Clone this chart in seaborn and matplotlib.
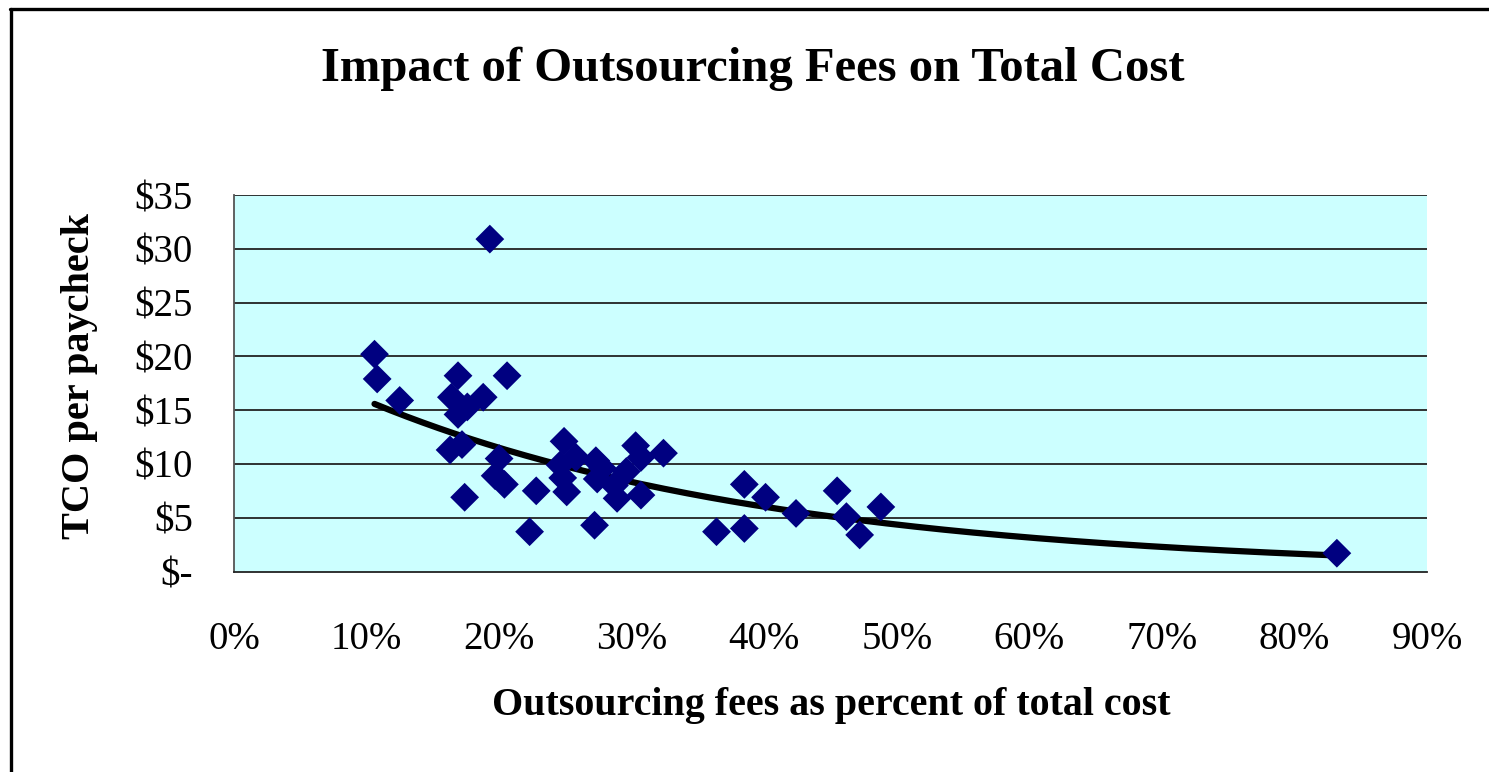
import numpy as np
import pandas as pd
import matplotlib
matplotlib.use("Agg")
import matplotlib.pyplot as plt
import seaborn as sns
from matplotlib.lines import Line2D
from matplotlib.ticker import FuncFormatter

# Data
fee_pct = [19.3, 10.6, 10.8, 12.5, 16.9, 20.6, 16.4, 18.8, 17.6, 16.9,
           16.3, 17.2, 17.4, 20.0, 19.7, 20.4, 22.8, 22.3, 24.9, 24.6,
           24.8, 25.1, 25.8, 27.3, 27.8, 27.4, 28.7, 28.9, 27.2, 29.6,
           30.3, 30.7, 30.7, 32.4, 36.4, 38.5, 38.5, 40.1, 42.4, 45.5,
           46.2, 47.2, 48.8, 83.2]
tco = [30.9, 20.2, 17.9, 15.9, 18.2, 18.2, 16.2, 16.2, 15.3, 14.6,
       11.3, 11.8, 6.9, 10.5, 8.9, 8.1, 7.5, 3.7, 12.1, 9.9,
       8.7, 7.4, 10.6, 10.3, 9.6, 8.6, 8.0, 6.8, 4.3, 9.3,
       11.7, 10.6, 7.1, 11.0, 3.7, 8.1, 4.0, 6.9, 5.4, 7.5,
       5.1, 3.4, 6.0, 1.7]
x_ticks = [0, 10, 20, 30, 40, 50, 60, 70, 80, 90]
y_ticks = [0, 5, 10, 15, 20, 25, 30, 35]

title = "Impact of Outsourcing Fees on Total Cost"
xlabel = "Outsourcing fees as percent of total cost"
ylabel = "TCO per paycheck"

df = pd.DataFrame({"fee": fee_pct, "tco": tco})

# Exponential trend line (least squares on log y, like Excel)
b, loga = np.polyfit(df["fee"], np.log(df["tco"]), 1)
xs = np.linspace(df["fee"].min(), df["fee"].max(), 300)
trend = pd.DataFrame({"fee": xs, "tco": np.exp(loga + b * xs)})

sns.set_theme(style="white")
plt.rcParams["font.family"] = ["Liberation Serif", "DejaVu Serif"]
plt.rcParams["text.color"] = "black"
plt.rcParams["xtick.color"] = "black"
plt.rcParams["ytick.color"] = "black"

W, H = 1489, 772
fig = plt.figure(figsize=(W / 100, H / 100), dpi=100)
ax = fig.add_axes([234 / W, 1 - 571.5 / H, (1427 - 234) / W, (571.5 - 195) / H])
ax.set_facecolor("#CCFFFF")

ax.set_xlim(0, 90)
ax.set_ylim(0, 35)
ax.set_xticks(x_ticks)
ax.set_yticks(y_ticks)
ax.xaxis.set_major_formatter(FuncFormatter(lambda v, p: f"{int(v)}%"))
ax.yaxis.set_major_formatter(FuncFormatter(lambda v, p: "$-" if v == 0 else f"${int(v)}"))
ax.tick_params(axis="both", which="major", labelsize=28, direction="out",
               length=8.6, width=1.2, color="#333333", labelcolor="black")
ax.tick_params(axis="x", pad=27)
ax.tick_params(axis="y", pad=21)

for yv in y_ticks[1:]:
    ax.axhline(yv, color="#222222", lw=1.3, zorder=1)

sns.lineplot(data=trend, x="fee", y="tco", ax=ax, color="black", lw=4.5,
             zorder=3, estimator=None, sort=False)
sns.scatterplot(data=df, x="fee", y="tco", ax=ax, marker="D", s=215,
                color="#000080", edgecolor="none", zorder=4)

for s in ["top", "right"]:
    ax.spines[s].set_visible(False)
ax.spines["left"].set_color("#555555")
ax.spines["left"].set_linewidth(1.3)
ax.spines["bottom"].set_color("#222222")
ax.spines["bottom"].set_linewidth(1.3)

ax.set_xlabel("")
ax.set_ylabel("")

fig.text(753 / W, 1 - 69 / H, title, ha="center", va="center",
         fontsize=35, fontweight="bold", color="black")
fig.text(831 / W, 1 - 706 / H, xlabel, ha="center", va="center",
         fontsize=28.8, fontweight="bold", color="black")
fig.text(80 / W, 1 - 376 / H, ylabel, ha="center", va="center",
         fontsize=29, fontweight="bold", rotation=90, color="black")

# Outer chart border (left and top visible)
fig.add_artist(Line2D([10.5 / W, 10.5 / W], [0, 1 - 8.5 / H], color="black",
                      lw=2.4, transform=fig.transFigure))
fig.add_artist(Line2D([9.5 / W, 1], [1 - 8.5 / H, 1 - 8.5 / H], color="black",
                      lw=2.4, transform=fig.transFigure))

fig.savefig("out.png", dpi=100, facecolor="white")
